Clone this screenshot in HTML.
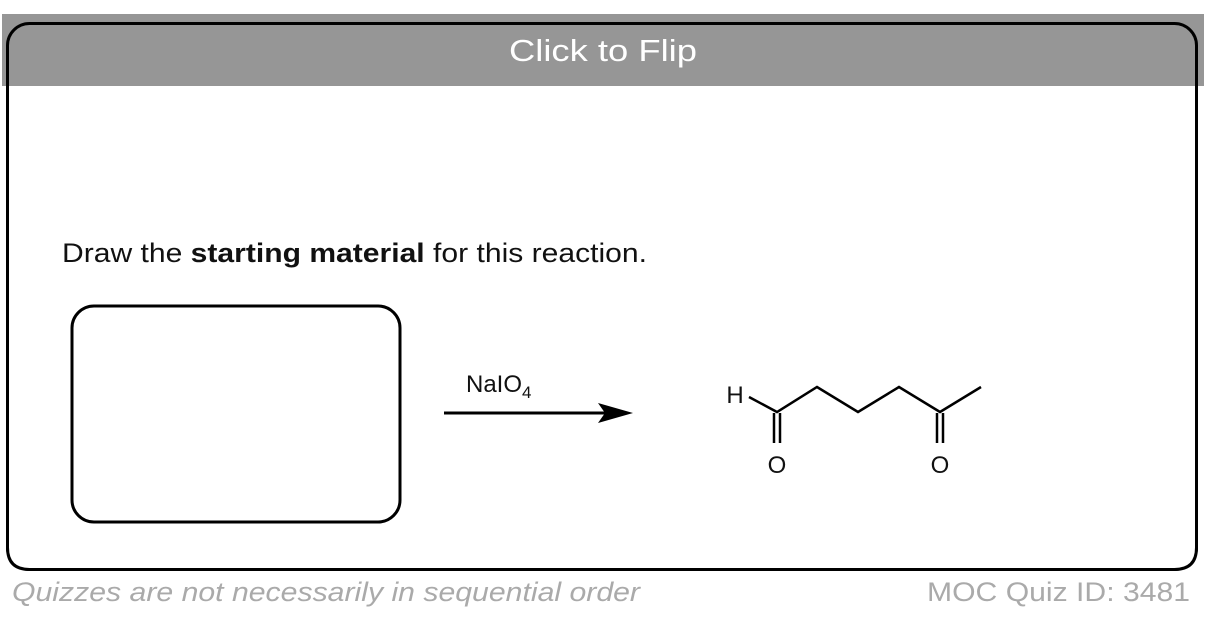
<!DOCTYPE html>
<html><head><meta charset="utf-8"><style>
html,body{margin:0;padding:0;background:#fff;width:1206px;height:618px;overflow:hidden}
</style></head><body>
<svg width="1206" height="618" xmlns="http://www.w3.org/2000/svg" font-family="Liberation Sans, sans-serif">
<rect x="2" y="14" width="1202" height="72" fill="#969696"/>
<rect x="7.5" y="23.5" width="1189" height="546" rx="22" fill="none" stroke="#000" stroke-width="3"/>
<rect x="9" y="86" width="1186" height="482" fill="#fff" rx="0"/>
<path d="M7.5 86 V547.5 Q7.5 569.5 29.5 569.5 H1174.5 Q1196.5 569.5 1196.5 547.5 V86" fill="none" stroke="#000" stroke-width="3"/>
<text x="509" y="61" fill="#fff" font-size="31" textLength="188" lengthAdjust="spacingAndGlyphs">Click to Flip</text>
<text x="62" y="262" font-size="27" fill="#111" textLength="585" lengthAdjust="spacingAndGlyphs">Draw the <tspan font-weight="bold">starting material</tspan> for this reaction.</text>
<rect x="72" y="306" width="328" height="216" rx="22" fill="none" stroke="#000" stroke-width="3"/>
<text x="466" y="392" font-size="24" fill="#111">NaIO<tspan font-size="17" dy="6">4</tspan></text>
<line x1="444" y1="413" x2="605" y2="413" stroke="#000" stroke-width="3"/>
<polygon points="633,413 598,403 605,413 598,423" fill="#000"/>
<g stroke="#000" stroke-width="2.5" fill="none">
<polyline points="749,397 777,412 817,387 858,412 899,387 940,412 981,387"/>
<line x1="774" y1="413" x2="774" y2="443"/><line x1="780" y1="413" x2="780" y2="443"/>
<line x1="937" y1="413" x2="937" y2="443"/><line x1="943" y1="413" x2="943" y2="443"/>
</g>
<text x="735" y="403" text-anchor="middle" font-size="24" fill="#111">H</text>
<text x="777" y="473" text-anchor="middle" font-size="24" fill="#111">O</text>
<text x="940" y="473" text-anchor="middle" font-size="24" fill="#111">O</text>
<text x="12" y="601" font-size="27" font-style="italic" fill="#aaa" textLength="628" lengthAdjust="spacingAndGlyphs">Quizzes are not necessarily in sequential order</text>
<text x="927" y="601" font-size="27" fill="#aaa" textLength="263" lengthAdjust="spacingAndGlyphs">MOC Quiz ID: 3481</text>
</svg>
</body></html>
